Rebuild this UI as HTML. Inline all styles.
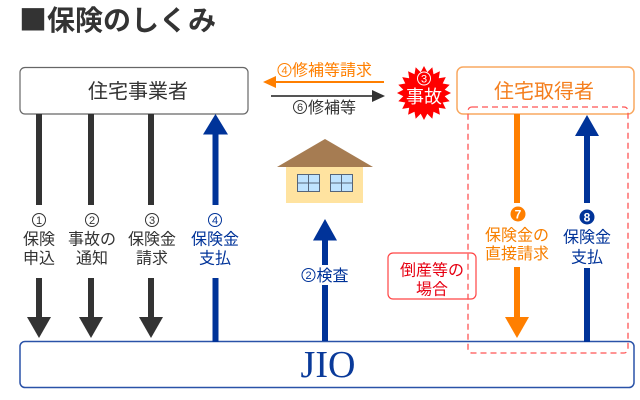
<!DOCTYPE html>
<html><head><meta charset="utf-8">
<style>
html,body{margin:0;padding:0;background:#fff;}
svg{display:block;}
text{font-family:"Liberation Sans","Noto Sans CJK JP",sans-serif;}
.cj{font-family:"Noto Sans CJK JP",sans-serif;}
</style></head>
<body>
<svg width="640" height="400" viewBox="0 0 640 400" xmlns="http://www.w3.org/2000/svg">
<!-- Title -->
<text x="19" y="30" font-size="28" font-weight="bold" fill="#333" class="cj">■保険のしくみ</text>

<!-- JIO box -->
<rect x="20" y="341.5" width="614" height="46" rx="5" fill="#fff" stroke="#2a52a8" stroke-width="1.5"/>
<text x="328" y="377" font-size="38" text-anchor="middle" fill="#0a3a9a" style="font-family:'Liberation Serif',serif">JIO</text>

<!-- Left box -->
<rect x="20" y="67.5" width="228" height="46.5" rx="5" fill="#fff" stroke="#666" stroke-width="1.2"/>
<text x="138" y="98" font-size="20" text-anchor="middle" fill="#333">住宅事業者</text>

<!-- dark arrows -->
<g fill="#333">
<rect x="36" y="114" width="6" height="91"/>
<rect x="36" y="278" width="6" height="41"/>
<polygon points="27,317 51,317 39,338"/>
<rect x="88" y="114" width="6" height="91"/>
<rect x="88" y="278" width="6" height="41"/>
<polygon points="79,317 103,317 91,338"/>
<rect x="148" y="114" width="6" height="91"/>
<rect x="148" y="278" width="6" height="41"/>
<polygon points="139,317 163,317 151,338"/>
</g>
<!-- blue col 4 -->
<g fill="#003399">
<polygon points="215.5,114 203,134.5 228,134.5"/>
<rect x="212.5" y="133" width="6" height="72"/>
<rect x="212.5" y="278" width="6" height="64"/>
</g>

<!-- circled numbers for columns -->
<g fill="none" stroke-width="1">
<circle cx="39" cy="220" r="6.5" stroke="#333"/>
<circle cx="92" cy="220" r="6.5" stroke="#333"/>
<circle cx="152" cy="220" r="6.5" stroke="#333"/>
<circle cx="215" cy="220" r="6.5" stroke="#003399"/>
</g>
<g font-size="11" text-anchor="middle" fill="#333">
<text x="39" y="224">1</text>
<text x="92" y="224">2</text>
<text x="152" y="224">3</text>
<text x="215" y="224" fill="#003399">4</text>
</g>
<g font-size="16" text-anchor="middle" fill="#333">
<text x="39" y="244.5">保険</text>
<text x="39" y="263.5">申込</text>
<text x="92" y="244.5">事故の</text>
<text x="92" y="263.5">通知</text>
<text x="152" y="244.5">保険金</text>
<text x="152" y="263.5">請求</text>
<text x="215" y="244.5" fill="#003399">保険金</text>
<text x="215" y="263.5" fill="#003399">支払</text>
</g>

<!-- middle arrows -->
<circle cx="284.5" cy="70" r="6.5" fill="none" stroke="#ff7f00" stroke-width="1"/>
<text x="284.5" y="74" font-size="11" text-anchor="middle" fill="#ff7f00">4</text>
<text x="292" y="75.5" font-size="16" fill="#ff7f00">修補等請求</text>
<line x1="274" y1="82" x2="384" y2="82" stroke="#ff7f00" stroke-width="2"/>
<polygon points="263,82 276,76 276,88" fill="#ff7f00"/>
<line x1="271" y1="96" x2="374" y2="96" stroke="#555" stroke-width="2"/>
<polygon points="385,96 372,90 372,102" fill="#333"/>
<circle cx="300" cy="107" r="6.5" fill="none" stroke="#333" stroke-width="1"/>
<text x="300" y="111" font-size="11" text-anchor="middle" fill="#333">6</text>
<text x="308" y="113" font-size="16" fill="#333">修補等</text>

<!-- starburst -->
<polygon fill="#ff0000" points="451,93 444.7,96.3 449.7,101.3 442.7,102.5 445.8,108.9 438.8,107.8 439.9,114.8 433.5,111.7 432.3,118.7 427.3,113.7 424,120 420.7,113.7 415.7,118.7 414.5,111.7 408.1,114.8 409.2,107.8 402.2,108.9 405.3,102.5 398.3,101.3 403.3,96.3 397,93 403.3,89.7 398.3,84.7 405.3,83.5 402.2,77.1 409.2,78.2 408.1,71.2 414.5,74.3 415.7,67.3 420.7,72.3 424,66 427.3,72.3 432.3,67.3 433.5,74.3 439.9,71.2 438.8,78.2 445.8,77.1 442.7,83.5 449.7,84.7 444.7,89.7"/>
<circle cx="424" cy="78.5" r="6.5" fill="none" stroke="#fff" stroke-width="1"/>
<text x="424" y="82.5" font-size="11" text-anchor="middle" fill="#fff">3</text>
<text x="424" y="103" font-size="18" text-anchor="middle" fill="#fff" class="cj">事故</text>

<!-- right box -->
<rect x="457" y="67" width="177" height="47" rx="6" fill="#fff" stroke="#f9a860" stroke-width="1.5"/>
<text x="544" y="98" font-size="20" text-anchor="middle" fill="#f47f1f">住宅取得者</text>

<!-- house -->
<polygon points="277,167 325,139 373,167" fill="#a67c52"/>
<rect x="286" y="167" width="77" height="36" fill="#ffe3a0"/>
<g stroke="#56657a" stroke-width="1">
<rect x="297.5" y="174.5" width="22" height="17" fill="#bfe3ff"/>
<line x1="308.5" y1="174.5" x2="308.5" y2="191.5"/>
<line x1="297.5" y1="183" x2="319.5" y2="183"/>
<rect x="330.5" y="174.5" width="22" height="17" fill="#bfe3ff"/>
<line x1="341.5" y1="174.5" x2="341.5" y2="191.5"/>
<line x1="330.5" y1="183" x2="352.5" y2="183"/>
</g>

<!-- inspection arrow -->
<polygon points="325,219 313,240.5 337,240.5" fill="#003399"/>
<rect x="322" y="239" width="6" height="102" fill="#003399"/>
<rect x="300" y="265" width="50" height="20" fill="#fff"/>
<circle cx="308.5" cy="275" r="6.5" fill="none" stroke="#003399" stroke-width="1"/>
<text x="308.5" y="279" font-size="11" text-anchor="middle" fill="#003399">2</text>
<text x="316.5" y="281" font-size="16" fill="#003399">検査</text>

<!-- bankruptcy box -->
<rect x="388" y="253" width="88" height="46" rx="5" fill="#fff" stroke="#f44" stroke-width="1.2"/>
<text x="432" y="275.5" font-size="16" text-anchor="middle" fill="#e60012">倒産等の</text>
<text x="432" y="294.5" font-size="16" text-anchor="middle" fill="#e60012">場合</text>

<!-- orange column -->
<g fill="#ff7f00">
<rect x="514" y="114" width="6" height="89"/>
<rect x="514" y="267" width="6" height="52"/>
<polygon points="505,317 529,317 517,338"/>
<circle cx="518" cy="214" r="7.5"/>
</g>
<text x="518" y="218.5" font-size="12" font-weight="bold" text-anchor="middle" fill="#fff">7</text>
<text x="517" y="240.5" font-size="16" text-anchor="middle" fill="#f77f00">保険金の</text>
<text x="517" y="259" font-size="16" text-anchor="middle" fill="#f77f00">直接請求</text>

<!-- blue right column -->
<g fill="#003399">
<polygon points="587,115 575,136 599,136"/>
<rect x="584" y="135" width="6" height="68"/>
<rect x="584" y="268" width="6" height="74"/>
<circle cx="587" cy="217" r="7.5"/>
</g>
<text x="587" y="221.5" font-size="12" font-weight="bold" text-anchor="middle" fill="#fff">8</text>
<text x="587" y="242.5" font-size="16" text-anchor="middle" fill="#003399">保険金</text>
<text x="587" y="262.5" font-size="16" text-anchor="middle" fill="#003399">支払</text>

<!-- dashed red box -->
<rect x="468" y="107" width="160" height="246" rx="4" fill="none" stroke="#f55" stroke-width="1.3" stroke-dasharray="6,4"/>
</svg>
</body></html>
